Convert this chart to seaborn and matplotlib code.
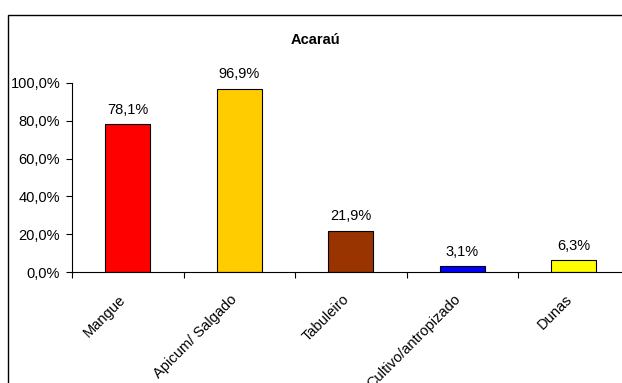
import matplotlib
matplotlib.use("Agg")
import matplotlib.pyplot as plt
import matplotlib.patches as mpatches
import matplotlib.transforms as mtransforms
import seaborn as sns
import pandas as pd

categories = ["Mangue", "Apicum/ Salgado", "Tabuleiro", "Cultivo/antropizado", "Dunas"]
values = [78.1, 96.9, 21.9, 3.1, 6.3]
colors = ["#FF0000", "#FFCC00", "#993300", "#0000FF", "#FFFF00"]
yticks = [0, 20, 40, 60, 80, 100]
title = "Acaraú"

sns.set_theme(style="white")
plt.rcParams["font.family"] = ["Liberation Sans", "DejaVu Sans"]
plt.rcParams["text.color"] = "black"
plt.rcParams["xtick.color"] = "black"
plt.rcParams["ytick.color"] = "black"

FS = 10.5
W, H = 622, 383
fig = plt.figure(figsize=(W / 100, H / 100), dpi=100)
fig.patch.set_facecolor("white")

# outer chart frame (runs off the right and bottom edges)
frame = mpatches.Rectangle((8 / W, -0.05), 1.1, 1 - 15 / H + 0.05,
                           transform=fig.transFigure, fill=False,
                           edgecolor="black", linewidth=1.0, zorder=0)
fig.patches.append(frame)

ax = fig.add_axes([72 / W, 1 - 272 / H, (629.5 - 72) / W, (272 - 83) / H])
ax.set_facecolor("none")

df = pd.DataFrame({"cat": categories, "val": values})
sns.barplot(data=df, x="cat", y="val", hue="cat", palette=colors,
            width=0.4, edgecolor="black", linewidth=0.8,
            legend=False, ax=ax, saturation=1)

ax.set_xlim(-0.5, len(categories) - 0.5)
ax.set_ylim(0, 100)

for i, v in enumerate(values):
    ax.text(i, v + 4, f"{v:.1f}%".replace(".", ","), ha="center", va="bottom",
            fontsize=FS, color="black")

ax.set_yticks(yticks)
ax.set_yticklabels([f"{t:.1f}%".replace(".", ",") for t in yticks], fontsize=FS)
ax.tick_params(axis="y", direction="out", length=4, width=0.8, pad=4.5, left=True)

ax.set_xticks(range(len(categories)))
ax.set_xticklabels(categories, rotation=45, ha="right", va="center",
                   rotation_mode="anchor", fontsize=FS)
ax.tick_params(axis="x", which="major", length=0, pad=18)
shift = mtransforms.ScaledTranslation(-4 / 100, 0, fig.dpi_scale_trans)
for lab in ax.get_xticklabels():
    lab.set_transform(lab.get_transform() + shift)
ax.set_xticks([i - 0.5 for i in range(len(categories) + 1)], minor=True)
ax.tick_params(axis="x", which="minor", direction="out", length=4, width=0.8,
               bottom=True)

for s in ["top", "right"]:
    ax.spines[s].set_visible(False)
for s in ["left", "bottom"]:
    ax.spines[s].set_color("black")
    ax.spines[s].set_linewidth(0.8)

ax.set_xlabel("")
ax.set_ylabel("")

fig.text(0.5 * (8 + W) / W, 1 - 40 / H, title, ha="center", va="center",
         fontsize=FS, fontweight="bold")

fig.savefig("out.png", dpi=100)
